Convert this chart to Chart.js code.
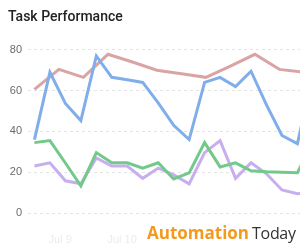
<!DOCTYPE html>
<html>
<head>
<meta charset="utf-8">
<script src="https://cdn.jsdelivr.net/npm/chart.js@4"></script>
<style>
  html, body { margin: 0; padding: 0; background: #fff; }
  #wrap { position: relative; width: 300px; height: 250px; overflow: hidden; }
  #wm { position: absolute; left: 143px; top: 222px; width: 157px; height: 28px; background: #fff;
        font-family: "Open Sans", sans-serif; font-size: 17px; line-height: 22px; white-space: nowrap; padding-left: 4px; box-sizing: border-box; }
  #wm .a { color: #f39a1e; font-weight: 700; }
  #wm .t { color: #333; font-weight: 400; font-size: 16px; margin-left: 3px; letter-spacing: -0.3px; }
</style>
</head>
<body>
<div id="wrap">
  <canvas id="c" width="300" height="250"></canvas>
  <div id="wm"><span class="a">Automation</span><span class="t">Today</span></div>
</div>
<script>
// Hours from Jul 9 00:00
const seriesHours = [-10,-4,2,8,14,20,26,32,38,44,50,56,62,68,74,80,86,92,98];
const blueValues   = [36,69,53.7,45.3,77,66.5,65.3,64,54,43,36,64,66.5,62,69.5,53,38,34,68];
const greenValues  = [34.5,35.5,24.5,13.3,29.6,24.6,24.6,22,24.6,16.7,19.7,34.5,22.6,24.6,20.7,20.2,20,19.7,35];
const purpleValues = [23,24.6,15.8,14.3,27,23,23,17,22,18.7,14.3,29.6,35.5,17,24.6,19.2,11.3,9.4,10];
const redHours  = [-10,-0.5,9,18.5,28,37.5,47,56.5,66,75.5,85,94.5];
const redValues = [60.6,70.4,66.5,77.8,74,70,68.3,66.5,72,77.8,70.4,69];
const tickHours  = [0,24,48,72];
const tickLabels = ["Jul 9","Jul 10","Jul 11","Jul 12"];
const yTicks = [0,20,40,60,80];

const pts = (xs, ys) => xs.map((x, i) => ({x: x, y: ys[i]}));

new Chart(document.getElementById('c'), {
  type: 'line',
  data: {
    datasets: [
      { label: 'Blue', data: pts(seriesHours, blueValues), borderColor: '#80aeea' },
      { label: 'Green', data: pts(seriesHours, greenValues), borderColor: '#72c98a' },
      { label: 'Purple', data: pts(seriesHours, purpleValues), borderColor: '#c7aef0' },
      { label: 'Red', data: pts(redHours, redValues), borderColor: '#dba4a4' }
    ]
  },
  options: {
    responsive: false,
    devicePixelRatio: 1,
    animation: false,
    layout: { padding: { left: 8, right: 0, top: 0, bottom: 0 } },
    elements: {
      line: { borderWidth: 3, tension: 0, fill: false },
      point: { radius: 0, hoverRadius: 0 }
    },
    plugins: {
      legend: { display: false },
      tooltip: { enabled: false },
      title: {
        display: true,
        text: 'Task Performance',
        align: 'start',
        color: '#222',
        font: { family: 'Roboto, "Liberation Sans", sans-serif', size: 14, weight: '500' },
        padding: { top: 9, bottom: 24 }
      }
    },
    scales: {
      x: {
        type: 'linear',
        min: -12.5,
        max: 93,
        grid: { display: false },
        border: { display: false },
        afterBuildTicks: (s) => { s.ticks = tickHours.map(v => ({ value: v })); },
        afterFit: (s) => { s.height = 37; },
        ticks: {
          autoSkip: false,
          maxRotation: 0,
          padding: 12,
          color: '#ececec',
          font: { family: '"Liberation Sans", Arial, sans-serif', size: 11 },
          callback: (v) => { const i = tickHours.indexOf(v); return i >= 0 ? tickLabels[i] : ''; }
        }
      },
      y: {
        min: 0,
        max: 80,
        grid: { color: '#e4e4e4', lineWidth: 1, drawTicks: false },
        border: { display: false, dash: [3, 3] },
        afterBuildTicks: (s) => { s.ticks = yTicks.map(v => ({ value: v })); },
        afterFit: (s) => { s.width = 20; },
        ticks: {
          padding: 6,
          color: '#6b6b6b',
          font: { family: '"Liberation Sans", Arial, sans-serif', size: 11 }
        }
      }
    }
  }
});
</script>
</body>
</html>
